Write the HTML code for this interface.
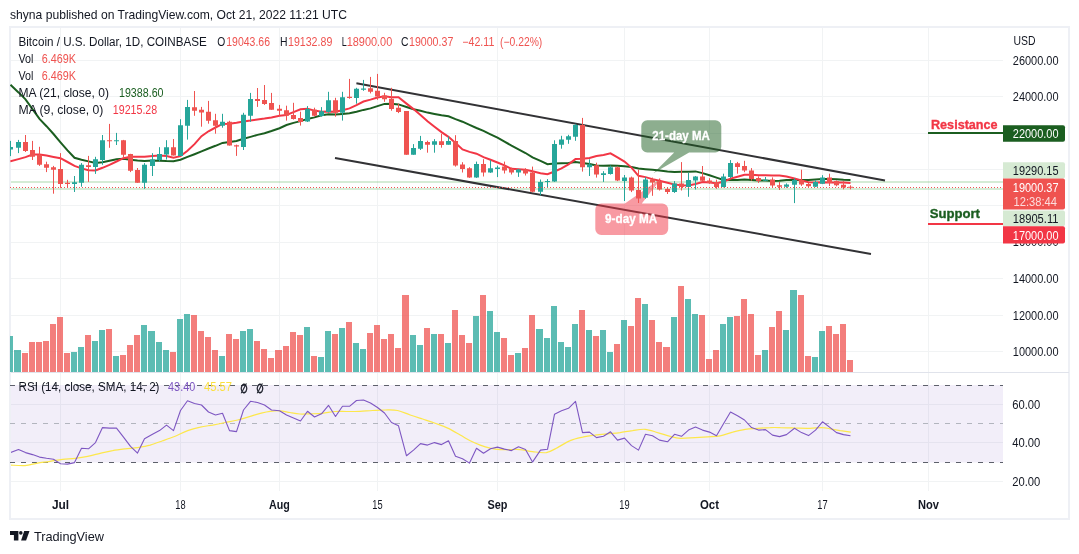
<!DOCTYPE html>
<html lang="en"><head><meta charset="utf-8"><title>BTCUSD chart</title>
<style>html,body{margin:0;padding:0;background:#fff}body{width:1079px;height:554px;overflow:hidden;font-family:"Liberation Sans", sans-serif}svg{display:block}</style>
</head><body>
<svg width="1079" height="554" viewBox="0 0 1079 554" font-family='"Liberation Sans", sans-serif'>
<rect x="10" y="27" width="1059" height="492" fill="#fff" stroke="#eef0f5" stroke-width="2"/>
<path d="M11 351.5H1003 M11 315.5H1003 M11 278.5H1003 M11 242.5H1003 M11 205.5H1003 M11 169.5H1003 M11 133.5H1003 M11 96.5H1003 M11 60.5H1003 M11 404.5H1003 M11 442.5H1003 M11 481.5H1003 M60.5 28V491 M180.5 28V491 M279.5 28V491 M377.5 28V491 M497.5 28V491 M624.5 28V491 M709.5 28V491 M822.5 28V491 M928.5 28V491" stroke="#f1f3f4" stroke-width="1" fill="none"/>
<path d="M11 372.5H1069" stroke="#e0e3eb" stroke-width="1"/>
<rect x="11" y="385" width="992" height="77.5" fill="#7e57c2" fill-opacity="0.1"/>
<path d="M10 385.5H1003M10 462.5H1003" stroke="#5d606b" stroke-width="1" stroke-dasharray="5 6"/>
<path d="M10 423.5H1003" stroke="#b2b5be" stroke-width="1" stroke-dasharray="5 6"/>
<path d="M10 336.1H13V372H10ZM14 350.1H21V372H14ZM71 352.1H77V372H71ZM78 347.1H84V372H78ZM92 341.1H98V372H92ZM99 330.1H105V372H99ZM113 356.1H119V372H113ZM141 325.0H147V372H141ZM148 331.1H155V372H148ZM156 342.1H162V372H156ZM163 350.1H169V372H163ZM177 319.0H183V372H177ZM184 314.0H190V372H184ZM219 356.1H225V372H219ZM240 331.1H246V372H240ZM247 329.0H253V372H247ZM304 327.0H310V372H304ZM318 357.1H324V372H318ZM325 331.1H331V372H325ZM339 328.0H345V372H339ZM353 343.1H359V372H353ZM360 349.1H366V372H360ZM410 335.1H416V372H410ZM417 345.1H423V372H417ZM431 334.1H437V372H431ZM445 343.1H451V372H445ZM473 316.0H479V372H473ZM487 311.0H493V372H487ZM494 332.1H500V372H494ZM515 353.1H521V372H515ZM536 329.0H543V372H536ZM544 338.1H550V372H544ZM551 306.0H557V372H551ZM558 342.1H564V372H558ZM565 347.1H571V372H565ZM572 324.0H578V372H572ZM586 330.1H592V372H586ZM600 330.1H606V372H600ZM607 352.1H613V372H607ZM621 320.0H627V372H621ZM642 304.0H648V372H642ZM671 317.0H677V372H671ZM685 299.0H691V372H685ZM692 314.0H698V372H692ZM720 324.0H726V372H720ZM727 317.0H733V372H727ZM762 350.1H768V372H762ZM783 330.1H789V372H783ZM790 290.0H797V372H790ZM812 357.1H818V372H812ZM819 331.1H825V372H819Z" fill="#26a69a" fill-opacity="0.75"/>
<path d="M22 353.1H28V372H22ZM29 342.1H35V372H29ZM36 342.1H42V372H36ZM43 341.1H49V372H43ZM50 324.0H56V372H50ZM57 317.0H63V372H57ZM64 353.1H70V372H64ZM85 335.1H91V372H85ZM106 329.0H112V372H106ZM120 355.1H126V372H120ZM127 345.1H133V372H127ZM134 335.1H140V372H134ZM170 352.1H176V372H170ZM191 315.0H197V372H191ZM198 331.1H204V372H198ZM205 337.1H211V372H205ZM212 350.1H218V372H212ZM226 334.1H232V372H226ZM233 339.1H239V372H233ZM254 341.1H260V372H254ZM261 349.1H267V372H261ZM268 358.1H274V372H268ZM275 350.1H282V372H275ZM283 346.1H289V372H283ZM290 332.1H296V372H290ZM297 335.1H303V372H297ZM311 356.1H317V372H311ZM332 334.1H338V372H332ZM346 322.0H352V372H346ZM367 333.1H373V372H367ZM374 325.0H380V372H374ZM381 339.1H387V372H381ZM388 334.1H394V372H388ZM395 348.1H401V372H395ZM402 295.0H409V372H402ZM424 328.0H430V372H424ZM438 334.1H444V372H438ZM452 310.0H458V372H452ZM459 335.1H465V372H459ZM466 343.1H472V372H466ZM480 295.0H486V372H480ZM501 338.1H507V372H501ZM508 355.1H514V372H508ZM522 348.1H528V372H522ZM529 315.0H535V372H529ZM579 310.0H585V372H579ZM593 336.1H599V372H593ZM614 344.1H620V372H614ZM628 326.0H634V372H628ZM635 298.0H641V372H635ZM649 320.0H655V372H649ZM656 342.1H662V372H656ZM663 347.1H670V372H663ZM678 286.0H684V372H678ZM699 315.0H705V372H699ZM706 359.1H712V372H706ZM713 350.1H719V372H713ZM734 316.0H740V372H734ZM741 299.0H747V372H741ZM748 314.0H754V372H748ZM755 355.1H761V372H755ZM769 327.0H775V372H769ZM776 311.0H782V372H776ZM798 295.0H804V372H798ZM805 356.1H811V372H805ZM826 326.0H832V372H826ZM833 334.1H839V372H833ZM840 324.0H846V372H840ZM847 360.1H853V372H847Z" fill="#ef5350" fill-opacity="0.75"/>
<path d="M11 182H1003M11 189H1003" stroke="#4caf50" stroke-opacity="0.24" stroke-width="2"/>
<clipPath id="pc"><rect x="10" y="28" width="993" height="344"/></clipPath>
<g clip-path="url(#pc)" fill="none" stroke-linejoin="miter">
<path d="M356.4 83.3L885 180.5M335 158.1L871 253.9" stroke="#323235" stroke-width="2" stroke-linecap="butt"/>
<path d="M647.3 120.2H715.3a6 6 0 0 1 6 6V146.5a6 6 0 0 1 -6 6H689.1L653.4 173.3L674.2 152.5H647.3a6 6 0 0 1 -6 -6V126.2a6 6 0 0 1 6 -6Z" fill="#1b5e20" fill-opacity="0.5"/>
<path d="M601.3 203.5H624.9L661.6 177.9L641.8 203.5H662.2a6 6 0 0 1 6 6V228.9a6 6 0 0 1 -6 6H601.3a6 6 0 0 1 -6 -6V209.5a6 6 0 0 1 6 -6Z" fill="#f23645" fill-opacity="0.5"/>
<path d="M10.5 84.8L18.5 92.4L25.5 99.4L32.5 109.1L39.5 118.9L46.5 126.2L53.5 134.0L60.5 142.3L67.5 150.4L74.5 157.8L81.5 159.8L88.5 161.4L95.5 163.0L102.5 162.2L109.5 160.8L116.5 159.3L123.5 158.8L130.5 159.7L137.5 160.5L144.5 160.9L152.5 160.5L159.5 160.8L166.5 161.1L173.5 161.2L180.5 159.7L187.5 156.9L194.5 154.2L201.5 151.4L208.5 148.5L215.5 145.8L222.5 142.9L229.5 142.0L236.5 141.0L243.5 138.8L250.5 136.9L257.5 134.9L264.5 133.2L271.5 131.0L279.5 128.2L286.5 125.0L293.5 122.9L300.5 121.1L307.5 118.9L314.5 117.4L321.5 115.3L328.5 114.2L335.5 114.5L342.5 113.9L349.5 113.3L356.5 111.7L363.5 109.9L370.5 108.4L377.5 106.1L384.5 103.9L391.5 103.7L398.5 104.4L406.5 107.0L413.5 109.2L420.5 110.8L427.5 112.6L434.5 113.9L441.5 115.3L448.5 116.3L455.5 119.1L462.5 121.7L469.5 124.9L476.5 128.0L483.5 130.9L490.5 134.3L497.5 137.6L504.5 141.6L511.5 145.6L518.5 149.3L525.5 153.0L532.5 157.4L540.5 160.9L547.5 164.2L554.5 163.6L561.5 163.2L568.5 162.9L575.5 161.9L582.5 163.0L589.5 163.9L596.5 165.4L603.5 165.7L610.5 165.6L617.5 165.7L624.5 166.3L631.5 167.1L638.5 168.6L645.5 169.2L652.5 169.7L659.5 170.5L667.5 171.6L674.5 172.1L681.5 171.8L688.5 171.7L695.5 171.4L702.5 173.1L709.5 175.2L716.5 177.6L723.5 180.0L730.5 179.8L737.5 179.9L744.5 179.6L751.5 179.9L758.5 180.6L765.5 180.5L772.5 180.9L779.5 180.7L786.5 180.0L794.5 180.0L801.5 180.1L808.5 179.9L815.5 179.4L822.5 179.1L829.5 179.0L836.5 179.2L843.5 179.8L850.5 180.1" stroke="#1b5e20" stroke-width="2"/><path d="M10.4 161.3L10.5 161.3L18.5 159.1L25.5 157.1L32.5 154.6L39.5 154.5L46.5 155.6L53.5 156.9L60.5 158.2L67.5 162.0L74.5 165.9L81.5 168.4L88.5 170.2L95.5 170.5L102.5 167.8L109.5 164.8L116.5 161.5L123.5 158.2L130.5 156.7L137.5 156.8L144.5 156.8L152.5 156.0L159.5 155.4L166.5 156.1L173.5 157.7L180.5 156.1L187.5 150.8L194.5 144.1L201.5 136.2L208.5 131.3L215.5 127.5L222.5 123.9L229.5 123.7L236.5 122.7L243.5 121.5L250.5 120.6L257.5 119.5L264.5 118.6L271.5 117.4L279.5 115.7L286.5 115.0L293.5 112.1L300.5 109.3L307.5 108.7L314.5 110.6L321.5 111.8L328.5 111.4L335.5 111.7L342.5 110.3L349.5 108.4L356.5 105.1L363.5 101.5L370.5 99.6L377.5 97.5L384.5 96.2L391.5 97.2L398.5 97.2L406.5 103.6L413.5 109.1L420.5 114.9L427.5 121.2L434.5 126.7L441.5 132.1L448.5 136.8L455.5 143.1L462.5 149.4L469.5 151.9L476.5 153.7L483.5 157.2L490.5 159.7L497.5 162.5L504.5 165.4L511.5 168.8L518.5 169.2L525.5 169.7L532.5 171.2L540.5 173.3L547.5 174.2L554.5 171.5L561.5 168.4L568.5 164.4L575.5 159.1L582.5 158.8L589.5 157.9L596.5 156.0L603.5 155.0L610.5 153.4L617.5 157.4L624.5 161.6L631.5 167.6L638.5 175.8L645.5 177.1L652.5 179.1L659.5 180.7L667.5 182.8L674.5 184.6L681.5 185.3L688.5 185.5L695.5 184.0L702.5 182.1L709.5 182.5L716.5 183.2L723.5 181.8L730.5 178.6L737.5 176.7L744.5 174.8L751.5 174.7L758.5 175.3L765.5 175.2L772.5 175.6L779.5 175.5L786.5 176.5L794.5 178.5L801.5 180.4L808.5 182.2L815.5 182.5L822.5 182.2L829.5 182.6L836.5 182.6L843.5 182.6L850.5 183.0" stroke="#f23645" stroke-width="2"/>
<path d="M10.5 140.9V156.1M18.5 139.9V153.1M74.5 176.0V192.0M81.5 163.1V186.7M95.5 156.8V173.9M102.5 135.0V164.8M116.5 132.9V145.0M144.5 163.1V188.8M152.5 153.2V176.0M159.5 147.2V161.5M166.5 140.2V159.5M180.5 119.2V156.1M187.5 99.9V139.6M222.5 113.8V127.7M243.5 112.8V150.0M250.5 92.9V121.8M307.5 106.1V122.0M321.5 107.1V116.7M328.5 91.8V112.7M342.5 91.8V120.6M356.5 87.8V103.7M363.5 79.9V90.8M413.5 144.1V154.8M420.5 135.9V150.0M434.5 139.1V152.7M448.5 136.4V144.7M476.5 161.6V177.9M490.5 160.2V172.9M497.5 165.6V177.1M518.5 168.9V176.9M540.5 179.5V195.4M547.5 179.1V187.0M554.5 140.3V181.9M561.5 135.8V148.7M568.5 134.8V143.8M575.5 123.9V140.8M589.5 159.3V176.0M603.5 171.2V181.9M610.5 165.6V174.6M624.5 175.0V201.0M645.5 177.2V198.8M674.5 181.1V192.9M688.5 172.6V196.8M695.5 176.0V189.5M723.5 173.7V187.4M730.5 160.1V178.2M765.5 177.0V181.1M786.5 183.4V187.8M794.5 178.2V203.1M815.5 180.4V187.1M822.5 175.2V184.1" stroke="#26a69a" stroke-width="1" fill="none"/><path d="M25.5 135.0V152.0M32.5 140.9V160.0M39.5 146.8V165.9M46.5 161.7V172.1M53.5 165.9V193.7M60.5 153.1V187.8M67.5 179.8V187.8M88.5 155.9V181.9M109.5 123.9V147.8M123.5 139.9V157.5M130.5 153.8V172.1M137.5 168.0V182.8M173.5 139.0V155.5M194.5 91.0V115.8M201.5 106.9V126.7M208.5 100.9V123.7M215.5 113.8V133.7M229.5 120.8V145.6M236.5 144.6V155.9M257.5 88.0V106.9M264.5 85.0V104.9M271.5 92.9V109.8M279.5 104.9V115.8M286.5 105.7V120.6M293.5 102.8V119.6M300.5 111.7V125.6M314.5 107.7V116.7M335.5 97.8V116.7M349.5 78.9V98.8M370.5 76.9V93.4M377.5 73.9V99.8M384.5 92.8V101.8M391.5 87.8V110.7M398.5 103.7V113.1M406.5 111.1V154.8M427.5 140.7V152.7M441.5 133.8V147.7M455.5 135.2V166.6M462.5 162.2V172.5M469.5 167.2V177.9M483.5 159.2V176.5M504.5 161.6V173.5M511.5 167.6V174.5M525.5 168.2V175.5M532.5 166.6V192.4M582.5 117.9V171.6M596.5 162.7V177.6M617.5 166.6V181.1M631.5 176.6V192.1M638.5 169.6V203.0M652.5 177.6V195.8M659.5 178.5V190.5M667.5 187.5V194.0M681.5 162.1V190.5M702.5 166.0V181.9M709.5 178.2V183.8M716.5 179.7V188.8M737.5 161.9V173.7M744.5 160.8V172.2M751.5 168.1V180.7M758.5 176.4V182.9M772.5 177.4V187.1M779.5 181.9V190.0M801.5 169.7V185.9M808.5 182.9V187.4M829.5 173.7V186.0M836.5 180.4V186.3M843.5 181.1V189.3M850.5 185.3V189.3" stroke="#ef5350" stroke-width="1" fill="none"/><path d="M10 147.1H13V149.6H10ZM16 142.0H21V147.8H16ZM72 182.3H77V184.0H72ZM79 164.8H84V182.8H79ZM93 159.2H98V167.0H93ZM100 140.2H105V160.0H100ZM114 140.2H119V141.2H114ZM142 164.8H147V182.8H142ZM150 159.5H155V165.9H150ZM157 154.1H162V160.1H157ZM164 147.2H169V154.5H164ZM178 125.3H183V156.1H178ZM185 106.9H190V125.7H185ZM220 121.8H225V125.7H220ZM241 114.8H246V147.0H241ZM248 98.9H253V115.8H248ZM305 109.1H310V121.6H305ZM319 111.3H324V116.1H319ZM326 100.2H331V112.1H326ZM340 97.2H345V112.7H340ZM354 88.8H359V98.0H354ZM361 88.4H366V89.8H361ZM411 148.1H416V154.8H411ZM418 141.1H423V148.8H418ZM432 141.3H437V144.7H432ZM446 141.1H451V144.7H446ZM474 164.0H479V177.5H474ZM488 168.2H493V172.5H488ZM495 167.6H500V168.9H495ZM516 169.5H521V172.5H516ZM538 182.1H543V191.8H538ZM545 180.9H550V182.1H545ZM552 144.1H557V181.5H552ZM559 139.4H564V144.8H559ZM566 136.2H571V139.8H566ZM573 124.9H578V136.8H573ZM587 164.6H592V167.2H587ZM601 173.2H606V175.0H601ZM608 167.2H613V174.0H608ZM622 177.6H627V181.1H622ZM643 179.5H648V197.8H643ZM672 183.5H677V191.9H672ZM686 179.9H691V186.9H686ZM693 176.6H698V180.5H693ZM721 176.4H726V187.1H721ZM728 163.0H733V177.0H728ZM763 179.7H768V180.8H763ZM784 184.4H789V186.8H784ZM792 180.1H797V184.8H792ZM813 181.9H818V186.8H813ZM820 177.4H825V183.8H820Z" fill="#26a69a"/><path d="M23 142.0H28V150.9H23ZM30 149.9H35V156.8H30ZM37 154.8H42V164.8H37ZM44 164.2H49V167.7H44ZM51 167.3H56V169.8H51ZM58 168.9H63V184.0H58ZM65 182.8H70V184.0H65ZM86 165.2H91V167.0H86ZM107 140.2H112V141.2H107ZM121 140.2H126V154.8H121ZM128 154.1H133V170.7H128ZM135 170.0H140V182.8H135ZM171 147.2H176V155.5H171ZM192 107.3H197V110.8H192ZM199 109.8H204V112.4H199ZM206 111.8H211V120.8H206ZM213 120.2H218V125.7H213ZM227 121.8H232V145.6H227ZM234 145.2H239V146.6H234ZM255 98.9H260V100.9H255ZM262 99.9H267V103.9H262ZM269 102.9H274V109.8H269ZM277 108.8H282V110.8H277ZM284 110.3H289V115.7H284ZM291 115.1H296V119.0H291ZM298 118.0H303V122.0H298ZM312 109.7H317V115.7H312ZM333 100.2H338V112.7H333ZM347 96.8H352V98.0H347ZM368 88.2H373V91.8H368ZM375 90.8H380V96.4H375ZM382 95.4H387V99.2H382ZM389 98.8H394V109.1H389ZM396 107.7H401V112.1H396ZM404 111.1H409V154.8H404ZM425 142.1H430V144.7H425ZM439 141.3H444V145.1H439ZM453 141.1H458V165.6H453ZM460 164.6H465V168.9H460ZM467 168.2H472V177.5H467ZM481 164.0H486V172.5H481ZM502 166.6H507V170.5H502ZM509 168.9H514V172.5H509ZM523 169.5H528V173.5H523ZM530 172.5H535V191.8H530ZM580 124.9H585V167.2H580ZM594 165.2H599V174.6H594ZM615 167.2H620V180.5H615ZM629 177.6H634V190.5H629ZM636 189.9H641V198.4H636ZM650 179.5H655V182.5H650ZM657 181.5H662V189.5H657ZM665 189.1H670V192.1H665ZM679 183.5H684V186.9H679ZM700 176.4H705V180.7H700ZM707 180.4H712V182.9H707ZM714 182.3H719V187.1H714ZM735 163.3H740V167.1H735ZM742 166.0H747V170.5H742ZM749 170.5H754V178.9H749ZM756 177.9H761V181.1H756ZM770 179.4H775V185.6H770ZM777 185.3H782V186.8H777ZM799 180.1H804V184.4H799ZM806 184.1H811V186.3H806ZM827 177.4H832V182.9H827ZM834 181.1H839V185.3H834ZM841 184.8H846V187.4H841ZM848 186.8H853V187.8H848Z" fill="#ef5350"/>
</g>
<path d="M10 187.5H1003" stroke="#ef5350" stroke-width="1" stroke-dasharray="1 2"/>
<text x="652.3" y="139.7" font-size="12" fill="#fff" font-weight="bold" text-anchor="start" textLength="57.5" lengthAdjust="spacingAndGlyphs" stroke="#fff" stroke-width="0.3">21-day MA</text>
<text x="605.1" y="222.8" font-size="12" fill="#fff" font-weight="bold" text-anchor="start" textLength="52.1" lengthAdjust="spacingAndGlyphs" stroke="#fff" stroke-width="0.3">9-day MA</text>
<path d="M928 133H1003" stroke="#1b5e20" stroke-width="2"/>
<path d="M928 224H1003" stroke="#f23645" stroke-width="2"/>
<text x="931.0" y="128.7" font-size="13" fill="#f23645" font-weight="bold" text-anchor="start" textLength="66.6" lengthAdjust="spacingAndGlyphs" stroke="#f23645" stroke-width="0.35">Resistance</text>
<text x="929.7" y="217.6" font-size="13" fill="#1b5e20" font-weight="bold" text-anchor="start" textLength="50.3" lengthAdjust="spacingAndGlyphs" stroke="#1b5e20" stroke-width="0.35">Support</text>
<text x="1012.8" y="65.0" font-size="12" fill="#131722" font-weight="normal" text-anchor="start" textLength="45.7" lengthAdjust="spacingAndGlyphs">26000.00</text>
<text x="1012.8" y="101.0" font-size="12" fill="#131722" font-weight="normal" text-anchor="start" textLength="45.7" lengthAdjust="spacingAndGlyphs">24000.00</text>
<text x="1012.8" y="283.0" font-size="12" fill="#131722" font-weight="normal" text-anchor="start" textLength="45.7" lengthAdjust="spacingAndGlyphs">14000.00</text>
<text x="1012.8" y="320.0" font-size="12" fill="#131722" font-weight="normal" text-anchor="start" textLength="45.7" lengthAdjust="spacingAndGlyphs">12000.00</text>
<text x="1012.8" y="356.0" font-size="12" fill="#131722" font-weight="normal" text-anchor="start" textLength="45.7" lengthAdjust="spacingAndGlyphs">10000.00</text>
<text x="1012.8" y="246.2" font-size="12" fill="#131722" font-weight="normal" text-anchor="start" textLength="45.7" lengthAdjust="spacingAndGlyphs">16000.00</text>
<text x="1013.5" y="44.8" font-size="12" fill="#131722" font-weight="normal" text-anchor="start" textLength="22.0" lengthAdjust="spacingAndGlyphs">USD</text>
<path d="M1003 125.2H1063a2 2 0 0 1 2 2V139.7a2 2 0 0 1 -2 2H1003Z" fill="#1b5e20"/>
<text x="1012.8" y="138.0" font-size="12" fill="#fff" font-weight="normal" text-anchor="start" textLength="45.7" lengthAdjust="spacingAndGlyphs">22000.00</text>
<path d="M1003 162.2H1063a2 2 0 0 1 2 2V176.6a2 2 0 0 1 -2 2H1003Z" fill="#d6ead3"/>
<text x="1012.8" y="175.0" font-size="12" fill="#131722" font-weight="normal" text-anchor="start" textLength="45.7" lengthAdjust="spacingAndGlyphs">19290.15</text>
<path d="M1003 178.6H1063a2 2 0 0 1 2 2V207.5a2 2 0 0 1 -2 2H1003Z" fill="#ef5350"/>
<text x="1012.8" y="191.8" font-size="12" fill="#fff" font-weight="normal" text-anchor="start" textLength="45.7" lengthAdjust="spacingAndGlyphs">19000.37</text>
<text x="1013.5" y="205.5" font-size="12" fill="#fff" font-weight="normal" text-anchor="start" textLength="43.5" lengthAdjust="spacingAndGlyphs" fill-opacity="0.8">12:38:44</text>
<path d="M1003 210.5H1063a2 2 0 0 1 2 2V224.2a2 2 0 0 1 -2 2H1003Z" fill="#d6ead3"/>
<text x="1012.8" y="222.8" font-size="12" fill="#131722" font-weight="normal" text-anchor="start" textLength="45.7" lengthAdjust="spacingAndGlyphs">18905.11</text>
<path d="M1003 226.2H1063a2 2 0 0 1 2 2V241.6a2 2 0 0 1 -2 2H1003Z" fill="#f23645"/>
<text x="1012.8" y="239.6" font-size="12" fill="#fff" font-weight="normal" text-anchor="start" textLength="45.7" lengthAdjust="spacingAndGlyphs">17000.00</text>
<clipPath id="rc"><rect x="11" y="373" width="992" height="118"/></clipPath>
<g clip-path="url(#rc)" fill="none" stroke-linejoin="round">
<path d="M11.0 465.1C13.3 465.2 20.6 465.9 25.0 465.6C29.4 465.3 33.4 463.8 37.5 463.1C41.7 462.4 45.9 462.0 50.1 461.3C54.2 460.7 58.4 459.8 62.6 459.3C66.7 458.8 70.9 458.8 75.1 458.3C79.2 457.8 83.4 457.2 87.6 456.3C91.8 455.5 95.9 454.3 100.1 453.3C104.3 452.4 108.4 451.3 112.6 450.6C116.8 449.8 121.0 449.3 125.1 448.8C129.3 448.3 133.5 448.2 137.6 447.6C141.8 446.9 146.0 446.2 150.2 445.1C154.3 443.9 158.5 442.3 162.7 440.8C166.8 439.4 171.0 438.0 175.2 436.3C179.3 434.6 183.5 432.1 187.7 430.6C191.9 429.0 196.0 428.0 200.2 427.1C204.4 426.1 208.5 425.8 212.7 425.1C216.9 424.3 221.1 423.4 225.2 422.5C229.4 421.7 233.6 421.1 237.7 420.0C241.9 419.0 246.5 417.4 250.3 416.3C254.0 415.2 257.0 414.1 260.3 413.3C263.6 412.5 266.7 411.7 270.0 411.3C273.3 410.9 276.7 410.6 280.0 410.8C283.4 411.0 286.7 412.0 290.0 412.5C293.4 413.1 296.7 413.8 300.0 414.0C303.4 414.2 306.3 413.9 310.1 413.8C313.8 413.7 318.4 413.7 322.6 413.3C326.7 412.9 330.9 411.8 335.1 411.5C339.2 411.2 343.4 411.6 347.6 411.5C351.8 411.5 355.9 411.5 360.1 411.3C364.3 411.1 368.4 410.7 372.6 410.5C376.8 410.3 381.0 410.0 385.1 410.0C389.3 410.0 393.5 409.7 397.6 410.5C401.8 411.4 406.0 413.6 410.2 415.0C414.3 416.5 418.5 417.7 422.7 419.0C426.8 420.4 431.0 421.8 435.2 423.3C439.3 424.8 443.5 426.1 447.7 428.1C451.9 430.0 456.4 432.9 460.2 435.1C464.0 437.2 466.9 439.1 470.2 440.8C473.5 442.5 476.9 443.9 480.2 445.1C483.6 446.3 486.9 447.3 490.2 448.1C493.6 448.8 496.9 449.3 500.2 449.6C503.6 449.8 506.9 449.6 510.3 449.6C513.6 449.6 516.5 449.2 520.3 449.6C524.0 449.9 528.2 451.1 532.5 451.6C536.8 452.1 542.1 453.2 546.3 452.6C550.4 451.9 553.6 449.6 557.5 447.6C561.5 445.6 565.9 442.3 570.1 440.6C574.2 438.8 578.4 438.0 582.6 437.1C586.7 436.1 590.9 435.6 595.1 435.1C599.2 434.5 603.4 434.2 607.6 433.8C611.8 433.4 615.9 433.1 620.1 432.6C624.3 432.0 628.4 431.1 632.6 430.6C636.8 430.0 641.0 429.0 645.1 429.3C649.3 429.6 653.5 431.4 657.6 432.6C661.8 433.7 666.4 435.4 670.2 436.3C673.9 437.3 676.0 438.1 680.2 438.3C684.3 438.5 690.6 437.8 695.2 437.6C699.8 437.3 703.5 437.1 707.7 436.8C711.9 436.5 716.0 436.6 720.2 435.8C724.4 435.0 728.5 433.1 732.7 432.1C736.9 431.0 741.1 429.9 745.2 429.3C749.4 428.7 753.6 428.6 757.7 428.3C761.9 428.0 766.5 427.7 770.3 427.6C774.0 427.4 776.1 427.5 780.3 427.6C784.4 427.6 790.1 427.9 795.0 428.1C800.0 428.2 805.4 428.4 810.0 428.3C814.6 428.2 819.2 427.5 822.5 427.6C825.9 427.6 827.1 428.3 830.1 428.8C833.0 429.3 836.6 430.0 840.1 430.6C843.5 431.1 849.0 431.8 850.8 432.1" stroke="#fde74c" stroke-width="1.2"/>
<path d="M10.5 452.6L18.5 449.6L25.5 452.6L32.5 454.6L39.5 457.1L46.5 458.3L53.5 459.3L60.5 463.8L67.5 464.1L74.5 462.6L81.5 448.3L88.5 448.8L95.5 442.6L102.5 427.6L109.5 428.1L116.5 428.1L123.5 437.1L130.5 446.3L137.5 453.1L144.5 438.8L152.5 434.3L159.5 430.6L166.5 425.1L173.5 430.6L180.5 410.5L187.5 400.8L194.5 403.5L201.5 405.0L208.5 412.0L215.5 415.0L222.5 413.3L229.5 430.6L236.5 431.6L243.5 410.0L250.5 401.3L257.5 402.5L264.5 405.0L271.5 410.0L279.5 410.8L286.5 415.0L293.5 418.0L300.5 421.0L307.5 411.3L314.5 417.0L321.5 413.8L328.5 405.3L335.5 416.5L342.5 406.3L349.5 406.3L356.5 400.5L363.5 400.0L370.5 403.0L377.5 407.5L384.5 413.0L391.5 422.5L398.5 425.8L406.5 455.8L413.5 450.1L420.5 443.6L427.5 445.1L434.5 442.6L441.5 444.6L448.5 440.8L455.5 456.3L462.5 458.8L469.5 463.1L476.5 448.3L483.5 453.3L490.5 448.8L497.5 447.1L504.5 449.1L511.5 450.6L518.5 446.8L525.5 449.6L532.5 462.1L540.5 450.1L547.5 449.3L554.5 414.3L561.5 410.8L568.5 408.3L575.5 401.3L582.5 432.6L589.5 432.1L596.5 437.6L603.5 436.3L610.5 431.8L617.5 440.1L624.5 438.1L631.5 445.6L638.5 450.1L645.5 434.3L652.5 435.8L659.5 440.1L667.5 441.8L674.5 434.3L681.5 436.3L688.5 430.1L695.5 427.1L702.5 430.1L709.5 432.1L716.5 435.8L723.5 423.8L730.5 412.0L737.5 415.8L744.5 420.0L751.5 427.6L758.5 430.1L765.5 429.6L772.5 435.1L779.5 436.6L786.5 434.6L794.5 428.3L801.5 432.6L808.5 435.6L815.5 430.1L822.5 421.8L829.5 427.1L836.5 432.6L843.5 434.6L850.5 435.8" stroke="#7e57c2" stroke-width="1.1"/>
</g>
<text x="1012.2" y="409.0" font-size="12" fill="#131722" font-weight="normal" text-anchor="start" textLength="28.1" lengthAdjust="spacingAndGlyphs">60.00</text>
<text x="1012.2" y="447.1" font-size="12" fill="#131722" font-weight="normal" text-anchor="start" textLength="28.1" lengthAdjust="spacingAndGlyphs">40.00</text>
<text x="1012.2" y="485.9" font-size="12" fill="#131722" font-weight="normal" text-anchor="start" textLength="28.1" lengthAdjust="spacingAndGlyphs">20.00</text>
<text x="10.0" y="19.0" font-size="13" fill="#131722" font-weight="normal" text-anchor="start" textLength="337.0" lengthAdjust="spacingAndGlyphs">shyna published on TradingView.com, Oct 21, 2022 11:21 UTC</text>
<text x="18.5" y="45.8" font-size="12" fill="#131722" font-weight="normal" text-anchor="start" textLength="188.3" lengthAdjust="spacingAndGlyphs">Bitcoin / U.S. Dollar, 1D, COINBASE</text>
<text x="217.3" y="45.8" font-size="12" fill="#131722" font-weight="normal" text-anchor="start" textLength="8.0" lengthAdjust="spacingAndGlyphs">O</text>
<text x="226.3" y="45.8" font-size="12" fill="#ef5350" font-weight="normal" text-anchor="start" textLength="43.7" lengthAdjust="spacingAndGlyphs">19043.66</text>
<text x="280.0" y="45.8" font-size="12" fill="#131722" font-weight="normal" text-anchor="start" textLength="7.5" lengthAdjust="spacingAndGlyphs">H</text>
<text x="288.0" y="45.8" font-size="12" fill="#ef5350" font-weight="normal" text-anchor="start" textLength="44.3" lengthAdjust="spacingAndGlyphs">19132.89</text>
<text x="341.7" y="45.8" font-size="12" fill="#131722" font-weight="normal" text-anchor="start" textLength="5.0" lengthAdjust="spacingAndGlyphs">L</text>
<text x="346.7" y="45.8" font-size="12" fill="#ef5350" font-weight="normal" text-anchor="start" textLength="45.6" lengthAdjust="spacingAndGlyphs">18900.00</text>
<text x="401.0" y="45.8" font-size="12" fill="#131722" font-weight="normal" text-anchor="start" textLength="7.5" lengthAdjust="spacingAndGlyphs">C</text>
<text x="409.0" y="45.8" font-size="12" fill="#ef5350" font-weight="normal" text-anchor="start" textLength="44.3" lengthAdjust="spacingAndGlyphs">19000.37</text>
<text x="462.3" y="45.8" font-size="12" fill="#ef5350" font-weight="normal" text-anchor="start" textLength="32.0" lengthAdjust="spacingAndGlyphs">−42.11</text>
<text x="500.0" y="45.8" font-size="12" fill="#ef5350" font-weight="normal" text-anchor="start" textLength="42.3" lengthAdjust="spacingAndGlyphs">(−0.22%)</text>
<text x="18.5" y="63.1" font-size="12" fill="#131722" font-weight="normal" text-anchor="start" textLength="14.9" lengthAdjust="spacingAndGlyphs">Vol</text>
<text x="41.8" y="63.1" font-size="12" fill="#ef5350" font-weight="normal" text-anchor="start" textLength="34.2" lengthAdjust="spacingAndGlyphs">6.469K</text>
<text x="18.5" y="79.8" font-size="12" fill="#131722" font-weight="normal" text-anchor="start" textLength="14.9" lengthAdjust="spacingAndGlyphs">Vol</text>
<text x="41.8" y="79.8" font-size="12" fill="#ef5350" font-weight="normal" text-anchor="start" textLength="34.2" lengthAdjust="spacingAndGlyphs">6.469K</text>
<text x="18.5" y="97.0" font-size="12" fill="#131722" font-weight="normal" text-anchor="start" textLength="90.5" lengthAdjust="spacingAndGlyphs">MA (21, close, 0)</text>
<text x="119.0" y="97.0" font-size="12" fill="#1b5e20" font-weight="normal" text-anchor="start" textLength="44.5" lengthAdjust="spacingAndGlyphs">19388.60</text>
<text x="18.5" y="113.9" font-size="12" fill="#131722" font-weight="normal" text-anchor="start" textLength="84.9" lengthAdjust="spacingAndGlyphs">MA (9, close, 0)</text>
<text x="112.8" y="113.9" font-size="12" fill="#f23645" font-weight="normal" text-anchor="start" textLength="44.4" lengthAdjust="spacingAndGlyphs">19215.28</text>
<text x="18.5" y="391.2" font-size="12" fill="#131722" font-weight="normal" text-anchor="start" textLength="141.0" lengthAdjust="spacingAndGlyphs">RSI (14, close, SMA, 14, 2)</text>
<text x="168.1" y="391.2" font-size="12" fill="#7e57c2" font-weight="normal" text-anchor="start" textLength="27.1" lengthAdjust="spacingAndGlyphs">43.40</text>
<text x="204.0" y="391.2" font-size="12" fill="#fbdf3f" font-weight="normal" text-anchor="start" textLength="27.9" lengthAdjust="spacingAndGlyphs">45.57</text>
<text x="240.5" y="392.5" font-size="13" fill="#131722" font-weight="bold" text-anchor="start" textLength="7.0" lengthAdjust="spacingAndGlyphs" font-family="DejaVu Sans, sans-serif" stroke="#131722" stroke-width="0.5">∅</text>
<text x="256.5" y="392.5" font-size="13" fill="#131722" font-weight="bold" text-anchor="start" textLength="7.0" lengthAdjust="spacingAndGlyphs" font-family="DejaVu Sans, sans-serif" stroke="#131722" stroke-width="0.5">∅</text>
<text x="60.5" y="509.2" font-size="12" fill="#131722" font-weight="bold" text-anchor="middle" textLength="17.2" lengthAdjust="spacingAndGlyphs">Jul</text>
<text x="180.5" y="509.2" font-size="12" fill="#131722" font-weight="normal" text-anchor="middle" textLength="10.3" lengthAdjust="spacingAndGlyphs">18</text>
<text x="279.5" y="509.2" font-size="12" fill="#131722" font-weight="bold" text-anchor="middle" textLength="20.8" lengthAdjust="spacingAndGlyphs">Aug</text>
<text x="377.5" y="509.2" font-size="12" fill="#131722" font-weight="normal" text-anchor="middle" textLength="10.3" lengthAdjust="spacingAndGlyphs">15</text>
<text x="497.5" y="509.2" font-size="12" fill="#131722" font-weight="bold" text-anchor="middle" textLength="20.0" lengthAdjust="spacingAndGlyphs">Sep</text>
<text x="624.5" y="509.2" font-size="12" fill="#131722" font-weight="normal" text-anchor="middle" textLength="10.3" lengthAdjust="spacingAndGlyphs">19</text>
<text x="709.5" y="509.2" font-size="12" fill="#131722" font-weight="bold" text-anchor="middle" textLength="19.0" lengthAdjust="spacingAndGlyphs">Oct</text>
<text x="822.5" y="509.2" font-size="12" fill="#131722" font-weight="normal" text-anchor="middle" textLength="10.3" lengthAdjust="spacingAndGlyphs">17</text>
<text x="928.5" y="509.2" font-size="12" fill="#131722" font-weight="bold" text-anchor="middle" textLength="21.0" lengthAdjust="spacingAndGlyphs">Nov</text>
<path d="M10 531.1H18.4V540.6H13.9V535H10Z" fill="#131722"/><circle cx="20.8" cy="532.9" r="1.8" fill="#131722"/><path d="M24.2 531.1H29.5L26.1 540.6H21.1Z" fill="#131722"/>
<text x="33.9" y="540.8" font-size="13" fill="#131722" font-weight="normal" text-anchor="start" textLength="70.1" lengthAdjust="spacingAndGlyphs">TradingView</text>
</svg>
</body></html>
